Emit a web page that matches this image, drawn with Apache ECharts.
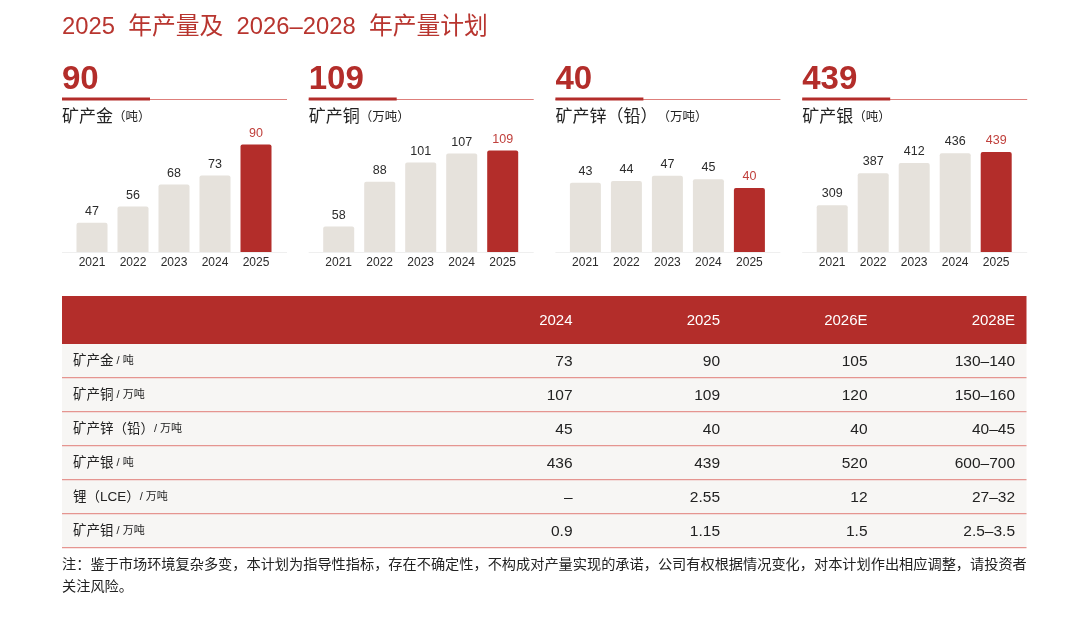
<!DOCTYPE html>
<html><head><meta charset="utf-8">
<script src="https://cdn.jsdelivr.net/npm/echarts@6/dist/echarts.min.js"></script>
<style>html,body{margin:0;padding:0;background:#fff}#c{width:1080px;height:620px}</style>
</head><body><div id="c"></div><script>
// ---------- data ----------
const titleText = '2025  年产量及  2026–2028  年产量计划';
const years = ['2021', '2022', '2023', '2024', '2025'];
const goldValues = [47, 56, 68, 73, 90];
const copperValues = [58, 88, 101, 107, 109];
const zincValues = [43, 44, 47, 45, 40];
const silverValues = [309, 387, 412, 436, 439];
const panelHeadline = ['90', '109', '40', '439'];
const panelNames = ['矿产金', '矿产铜', '矿产锌（铅）', '矿产银'];
const panelUnits = ['（吨）', '（万吨）', '（万吨）', '（吨）'];
const tableColumns = ['2024', '2025', '2026E', '2028E'];
const tableRowNames = ['矿产金', '矿产铜', '矿产锌（铅）', '矿产银', '锂（LCE）', '矿产钼'];
const tableRowUnits = ['/ 吨', '/ 万吨', '/ 万吨', '/ 吨', '/ 万吨', '/ 万吨'];
const col2024 = ['73', '107', '45', '436', '–', '0.9'];
const col2025 = ['90', '109', '40', '439', '2.55', '1.15'];
const col2026E = ['105', '120', '40', '520', '12', '1.5'];
const col2028E = ['130–140', '150–160', '40–45', '600–700', '27–32', '2.5–3.5'];
const noteLines = [
  '注：鉴于市场环境复杂多变，本计划为指导性指标，存在不确定性，不构成对产量实现的承诺，公司有权根据情况变化，对本计划作出相应调整，请投资者',
  '关注风险。'
];

// ---------- layout / style ----------
const RED = '#b32d2a';
const GREY = '#e6e2dc';
const TXT = '#2b2b2b';
const FONT = '"Liberation Sans", "Noto Sans CJK SC", sans-serif';
const CJK = '"Noto Sans CJK SC", "Liberation Sans", sans-serif';
const panelSeries = [goldValues, copperValues, zincValues, silverValues];
const panelLeft = [62, 308.7, 555.4, 802.2];
const panelWidth = 225;
const axisMin = [31, 41, 3, 195];
const axisMax = [92.5, 116, 67.7, 468];
const valueCols = [col2024, col2025, col2026E, col2028E];
const colRight = [572.5, 720, 867.5, 1015];

const grids = [], xAxes = [], yAxes = [], series = [], graphics = [];

graphics.push({type: 'text', x: 62, y: 27, style: {text: titleText, fill: '#b8352f', font: '23.8px ' + FONT,
  textAlign: 'left', textVerticalAlign: 'middle', align: 'left', verticalAlign: 'middle'}});

panelSeries.forEach((vals, i) => {
  const L = panelLeft[i];
  grids.push({left: L + 9.5, width: 205, top: 140, bottom: 368, containLabel: false});
  xAxes.push({type: 'category', gridIndex: i, data: years,
    axisLine: {show: false}, axisTick: {show: false},
    axisLabel: {color: TXT, fontSize: 12, fontFamily: FONT, margin: 5}});
  yAxes.push({type: 'value', gridIndex: i, min: axisMin[i], max: axisMax[i], show: false, splitLine: {show: false}});
  const last = vals.length - 1;
  series.push({type: 'bar', xAxisIndex: i, yAxisIndex: i, barWidth: 31,
    itemStyle: {color: GREY, borderRadius: [2, 2, 0, 0]},
    label: {show: true, position: 'top', distance: 5, color: TXT, fontSize: 12.5, fontFamily: FONT},
    data: vals.map((v, k) => k === last ? {value: v, itemStyle: {color: RED}, label: {color: '#c0403c'}} : v),
    z: 3});
  graphics.push({type: 'text', x: L, y: 80, style: {text: panelHeadline[i], fill: RED, font: 'bold 33px ' + FONT, textAlign: 'left', textVerticalAlign: 'middle', align: 'left', verticalAlign: 'middle'}});
  graphics.push({type: 'rect', shape: {x: L, y: 99, width: panelWidth, height: 1}, style: {fill: '#de7f7b'}});
  graphics.push({type: 'rect', shape: {x: L, y: 97.5, width: 88, height: 3}, style: {fill: RED}});
  graphics.push({type: 'text', x: L, y: 116, style: {text: '{n|' + panelNames[i] + '}{u|' + panelUnits[i] + '}', textAlign: 'left', textVerticalAlign: 'middle', align: 'left', verticalAlign: 'middle',
    rich: {n: {fontSize: 17, fontFamily: CJK, fill: '#222', color: '#222'}, u: {fontSize: 12.5, fontFamily: CJK, fill: '#222', color: '#222'}}}});
  graphics.push({type: 'rect', shape: {x: L, y: 252, width: panelWidth, height: 1}, style: {fill: '#efefef'}, z: 1});
});

// ---------- table ----------
const TL = 62, TR = 1026.5, headTop = 296, headH = 48, rowH = 34;
graphics.push({type: 'rect', shape: {x: TL, y: headTop, width: TR - TL, height: headH}, style: {fill: RED}});
graphics.push({type: 'rect', shape: {x: TL, y: headTop + headH, width: TR - TL, height: rowH * tableRowNames.length}, style: {fill: '#f7f6f4'}});
tableColumns.forEach((c, j) => {
  graphics.push({type: 'text', x: colRight[j], y: headTop + headH / 2 + 1, style: {text: c, fill: '#fff', font: '15px ' + FONT, textAlign: 'right', textVerticalAlign: 'middle', align: 'right', verticalAlign: 'middle'}});
});
tableRowNames.forEach((name, r) => {
  const cy = headTop + headH + rowH * r + rowH / 2;
  const gap = name.endsWith('）') ? '' : ' ';
  graphics.push({type: 'text', x: 73, y: cy, style: {text: '{n|' + name + '}{u|' + gap + tableRowUnits[r] + '}', textAlign: 'left', textVerticalAlign: 'middle', align: 'left', verticalAlign: 'middle',
    rich: {n: {fontSize: 13.5, fontFamily: FONT, fill: '#222', color: '#222'}, u: {fontSize: 11, fontFamily: FONT, fill: '#222', color: '#222'}}}});
  valueCols.forEach((col, j) => {
    graphics.push({type: 'text', x: colRight[j], y: cy + 1, style: {text: col[r], fill: '#222', font: '15.5px ' + FONT, textAlign: 'right', textVerticalAlign: 'middle', align: 'right', verticalAlign: 'middle'}});
  });
  const ly = headTop + headH + rowH * (r + 1) - 1;
  graphics.push({type: 'rect', shape: {x: TL, y: ly, width: TR - TL, height: 1.3}, style: {fill: '#e59590'}});
});

// ---------- note ----------
noteLines.forEach((t, k) => {
  graphics.push({type: 'text', x: 62, y: 564 + 22 * k, style: {text: t, fill: '#222', font: '14.2px ' + CJK, textAlign: 'left', textVerticalAlign: 'middle', align: 'left', verticalAlign: 'middle'}});
});

const chart = echarts.init(document.getElementById('c'), null, {renderer: 'canvas'});
chart.setOption({
  backgroundColor: '#fff',
  animation: false,
  grid: grids, xAxis: xAxes, yAxis: yAxes, series: series,
  graphic: {elements: graphics}
});
</script></body></html>
